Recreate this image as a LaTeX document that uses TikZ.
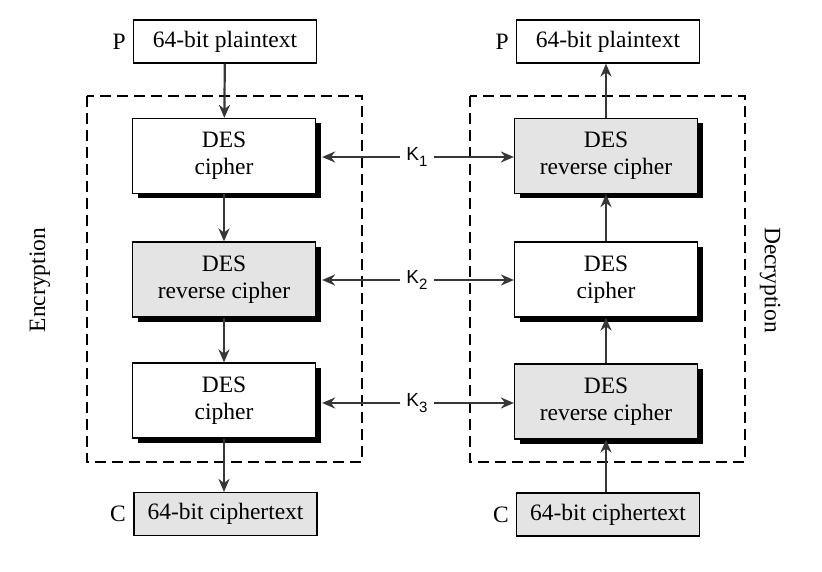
\documentclass[tikz,border=0pt]{standalone}
\usepackage{fontspec}
\setmainfont{Liberation Serif}
\newfontfamily\keyfont{Liberation Sans}
\usetikzlibrary{arrows.meta,shadows}
\definecolor{boxgray}{RGB}{228,228,228}
\definecolor{linegray}{RGB}{55,55,55}
\begin{document}
\begin{tikzpicture}[x=1pt, y=-1pt,
    box/.style={draw, line width=1.2pt, fill=white, minimum width=183pt, minimum height=75pt, align=center,
        font=\fontsize{23.5}{27}\selectfont, inner sep=0pt,
        drop shadow={shadow xshift=5pt, shadow yshift=-5pt, fill=black, opacity=1}},
    greybox/.style={box, fill=boxgray},
    textbox/.style={draw, line width=1.2pt, minimum width=183pt, minimum height=43pt, inner sep=0pt,
        font=\fontsize{23.5}{27}\selectfont},
    tag/.style={font=\fontsize{23.5}{27}\selectfont, inner sep=0pt},
    keylabel/.style={font=\keyfont\fontsize{19}{19}\selectfont, inner sep=6pt},
    arrow/.style={-{Stealth[length=13pt, width=11pt]}, line width=2.2pt, draw=linegray},
    frame/.style={dashed, dash pattern=on 11pt off 6pt, line width=2pt}
]
    \useasboundingbox (0,0) rectangle (822,572);

    % Frames
    \draw[frame] (87,96) rectangle (362,462);
    \draw[frame] (470,96) rectangle (745,462);
    \node[tag, rotate=90] (encl) at (40,280) {Encryption};
    \node[tag, rotate=-90] (decl) at (770,280) {Decryption};

    % Encryption side
    \node[textbox] (plainL) at (225,41.5) {64-bit plaintext};
    \node[tag, anchor=east] (pL) at (126,41.5) {P};
    \node[box] (enc1) at (224,156) {DES\\cipher};
    \node[greybox] (enc2) at (224,279.5) {DES\\reverse cipher};
    \node[box] (enc3) at (224,400.5) {DES\\cipher};
    \node[textbox, fill=boxgray] (cipherL) at (225.5,514) {64-bit ciphertext};
    \node[tag, anchor=east] (cL) at (126,514) {C};

    % Decryption side
    \node[textbox] (plainR) at (608,41.5) {64-bit plaintext};
    \node[tag, anchor=east] (pR) at (509,41.5) {P};
    \node[greybox] (dec1) at (606,156) {DES\\reverse cipher};
    \node[box] (dec2) at (606,279.5) {DES\\cipher};
    \node[greybox] (dec3) at (606,401.5) {DES\\reverse cipher};
    \node[textbox, fill=boxgray] (cipherR) at (608,514.5) {64-bit ciphertext};
    \node[tag, anchor=east] (cR) at (509,514.5) {C};

    % Keys
    \node[keylabel] (k1) at (417,157) {K\raisebox{-6pt}{\fontsize{15}{15}\selectfont 1}};
    \node[keylabel] (k2) at (417,280) {K\raisebox{-6pt}{\fontsize{15}{15}\selectfont 2}};
    \node[keylabel] (k3) at (417,403) {K\raisebox{-6pt}{\fontsize{15}{15}\selectfont 3}};

    % Arrows
    \draw[arrow] (plainL) -- (enc1);
    \draw[arrow] (enc1) -- (enc2);
    \draw[arrow] (enc2) -- (enc3);
    \draw[arrow] (enc3) -- (cipherL.north -| enc3);

    \draw[arrow] (cipherR.north -| dec3) -- (dec3);
    \draw[arrow] (dec3) -- (dec2);
    \draw[arrow] (dec2) -- (dec1);
    \draw[arrow] (dec1) -- (plainR.south -| dec1);

    \draw[arrow, shorten >=6pt] (k1.west) -- (enc1.east |- k1.west);
    \draw[arrow] (k1.east) -- (dec1.west |- k1.east);
    \draw[arrow, shorten >=6pt] (k2.west) -- (enc2.east |- k2.west);
    \draw[arrow] (k2.east) -- (dec2.west |- k2.east);
    \draw[arrow, shorten >=6pt] (k3.west) -- (enc3.east |- k3.west);
    \draw[arrow] (k3.east) -- (dec3.west |- k3.east);
\end{tikzpicture}
\end{document}
